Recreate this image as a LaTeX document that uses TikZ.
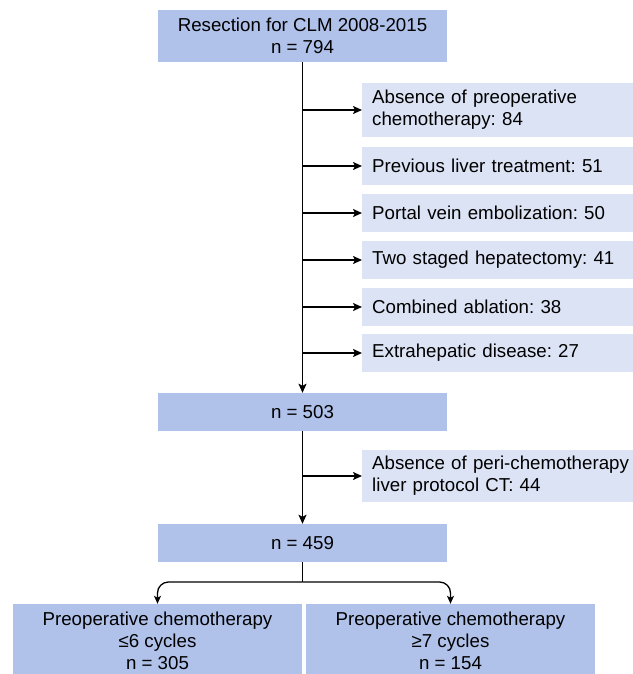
\documentclass[tikz,border=0pt]{standalone}
\usepackage{fontspec}
\setmainfont{Liberation Sans}
\usetikzlibrary{arrows.meta,calc}
\definecolor{darkbox}{RGB}{176,194,234}
\definecolor{lightbox}{RGB}{220,227,245}
\frenchspacing
\tikzset{
  mainbox/.style={fill=darkbox, draw=none, minimum width=289pt, inner sep=0pt, align=center, font=\fontsize{18.7}{22}\selectfont},
  sidebox/.style={fill=lightbox, draw=none, anchor=west, text width=258pt, inner xsep=10pt, inner ysep=0pt, align=left, font=\fontsize{18.7}{22}\selectfont},
  arr/.style={line width=1.8pt, -{Stealth[length=9pt,width=8pt,inset=2pt]}},
  trunk/.style={line width=1.8pt},
  thinarr/.style={line width=1.3pt, -{Stealth[length=8pt,width=7pt,inset=2pt]}, rounded corners=11pt}
}
\begin{document}
\begin{tikzpicture}[x=1pt,y=-1pt]
\useasboundingbox (0,0) rectangle (632,674);
\node[mainbox, minimum height=52pt] (top) at (302.5,36) {Resection for CLM 2008-2015\\n = 794};
\node[sidebox, minimum height=54pt] (s1) at (362,110) {Absence of preoperative\\chemotherapy: 84};
\node[sidebox, minimum height=38pt] (s2) at (362,166) {Previous liver treatment: 51};
\node[sidebox, minimum height=38pt] (s3) at (362,213) {Portal vein embolization: 50};
\node[sidebox, minimum height=38pt] (s4) at (362,260) {Two staged hepatectomy: 41};
\node[sidebox, minimum height=38pt] (s5) at (362,307) {Combined ablation: 38};
\node[sidebox, minimum height=38pt] (s6) at (362,353) {Extrahepatic disease: 27};
\node[mainbox, minimum height=38pt] (n503) at (302.5,412) {n = 503};
\node[sidebox, minimum height=52pt] (peri) at (362,476) {Absence of peri-chemotherapy\\liver protocol CT: 44};
\node[mainbox, minimum height=74pt] (bl) at (157.5,641) {Preoperative chemotherapy\\≤6 cycles\\n = 305};
\node[mainbox, minimum height=74pt] (br) at (450.5,641) {Preoperative chemotherapy\\≥7 cycles\\n = 154};
\node[mainbox, minimum height=38pt] (n459) at (302.5,543) {n = 459};
\coordinate (j) at (302.5,582);

\draw[arr] (top.south) -- (n503.north);
\foreach \s in {s1,s2,s3,s4,s5,s6}
  \draw[arr] (top.south |- \s.west) -- (\s.west);
\draw[arr] (n503.south) -- (n459.north);
\draw[arr] (n503.south |- peri.west) -- (peri.west);
\draw[trunk] (n459.south) -- (j);
\draw[thinarr] (j) -| (bl.north);
\draw[thinarr] (j) -| (br.north);
\end{tikzpicture}
\end{document}
